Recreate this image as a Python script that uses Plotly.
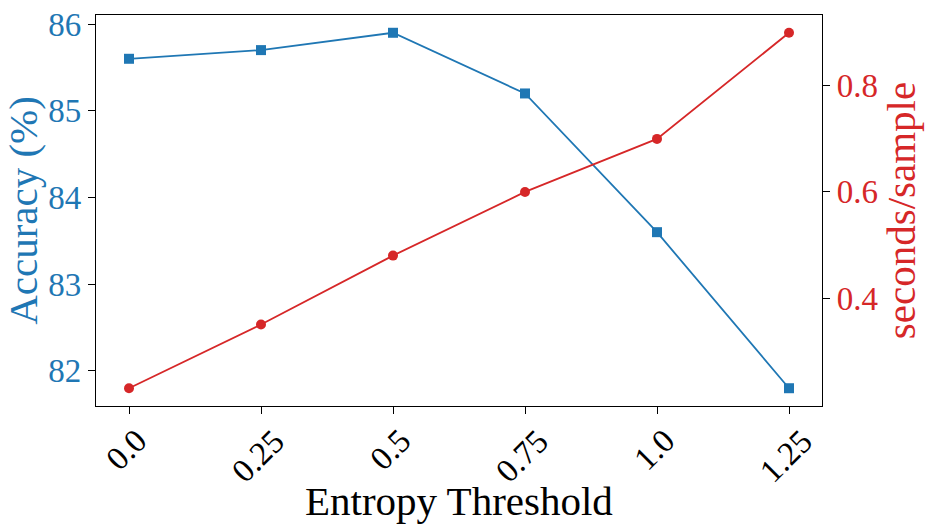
import plotly.graph_objects as go

# Data
thresholds = [0.0, 0.25, 0.5, 0.75, 1.0, 1.25]
threshold_labels = ["0.0", "0.25", "0.5", "0.75", "1.0", "1.25"]
accuracy = [85.6, 85.7, 85.9, 85.2, 83.6, 81.8]
seconds_per_sample = [0.23, 0.35, 0.48, 0.60, 0.70, 0.90]

blue = '#1f77b4'
red = '#d62728'
font_family = "Liberation Serif, Times New Roman, serif"

fig = go.Figure()

fig.add_trace(go.Scatter(x=thresholds, y=accuracy, mode='lines+markers',
                         name='Accuracy', line=dict(color=blue, width=1.8),
                         marker=dict(symbol='square', size=10, color=blue)))

fig.add_trace(go.Scatter(x=thresholds, y=seconds_per_sample, mode='lines+markers',
                         name='seconds/sample', yaxis='y2',
                         line=dict(color=red, width=1.8),
                         marker=dict(symbol='circle', size=10, color=red)))

axis_common = dict(showgrid=False, zeroline=False, showline=True,
                   linecolor='black', linewidth=1.2, ticks='outside',
                   ticklen=7, tickwidth=1.2, tickcolor='black',
                   automargin=False)

# x tick labels as rotated annotations, centred under each tick like matplotlib does
for xv, lab in zip(thresholds, threshold_labels):
    fig.add_annotation(x=xv, xref='x', y=0, yref='paper', text=lab,
                       textangle=-45, showarrow=False, xanchor='center',
                       yanchor='top', xshift=-3, yshift=-14,
                       font=dict(family=font_family, size=33, color='black'))

fig.add_annotation(x=0.5, xref='paper', y=0, yref='paper', text='Entropy Threshold',
                   showarrow=False, xanchor='center', yanchor='top', yshift=-70,
                   font=dict(family=font_family, size=41, color='black'))

fig.update_layout(
    width=927,
    height=531,
    margin=dict(l=96, r=105, t=15, b=125),
    paper_bgcolor='white',
    plot_bgcolor='white',
    showlegend=False,
    font=dict(family=font_family, color='black'),
    xaxis=dict(
        range=[-0.0625, 1.3125],
        tickvals=thresholds,
        showticklabels=False,
        mirror=True,
        **axis_common
    ),
    yaxis=dict(
        range=[81.595, 86.105],
        tickvals=[82, 83, 84, 85, 86],
        tickfont=dict(size=33, color=blue),
        title=dict(text='Accuracy (%)', font=dict(size=41, color=blue), standoff=6),
        **axis_common
    ),
    yaxis2=dict(
        overlaying='y',
        side='right',
        range=[0.1965, 0.9335],
        tickvals=[0.4, 0.6, 0.8],
        ticktext=['0.4', '0.6', '0.8'],
        tickfont=dict(size=33, color=red),
        title=dict(text='seconds/sample', font=dict(size=41, color=red), standoff=2),
        **axis_common
    ),
)

# drop the browser's default page margin so the figure sits at the top-left corner
fig.write_html("out.html", config={'displayModeBar': False},
               post_script="document.body.style.margin='0';")
